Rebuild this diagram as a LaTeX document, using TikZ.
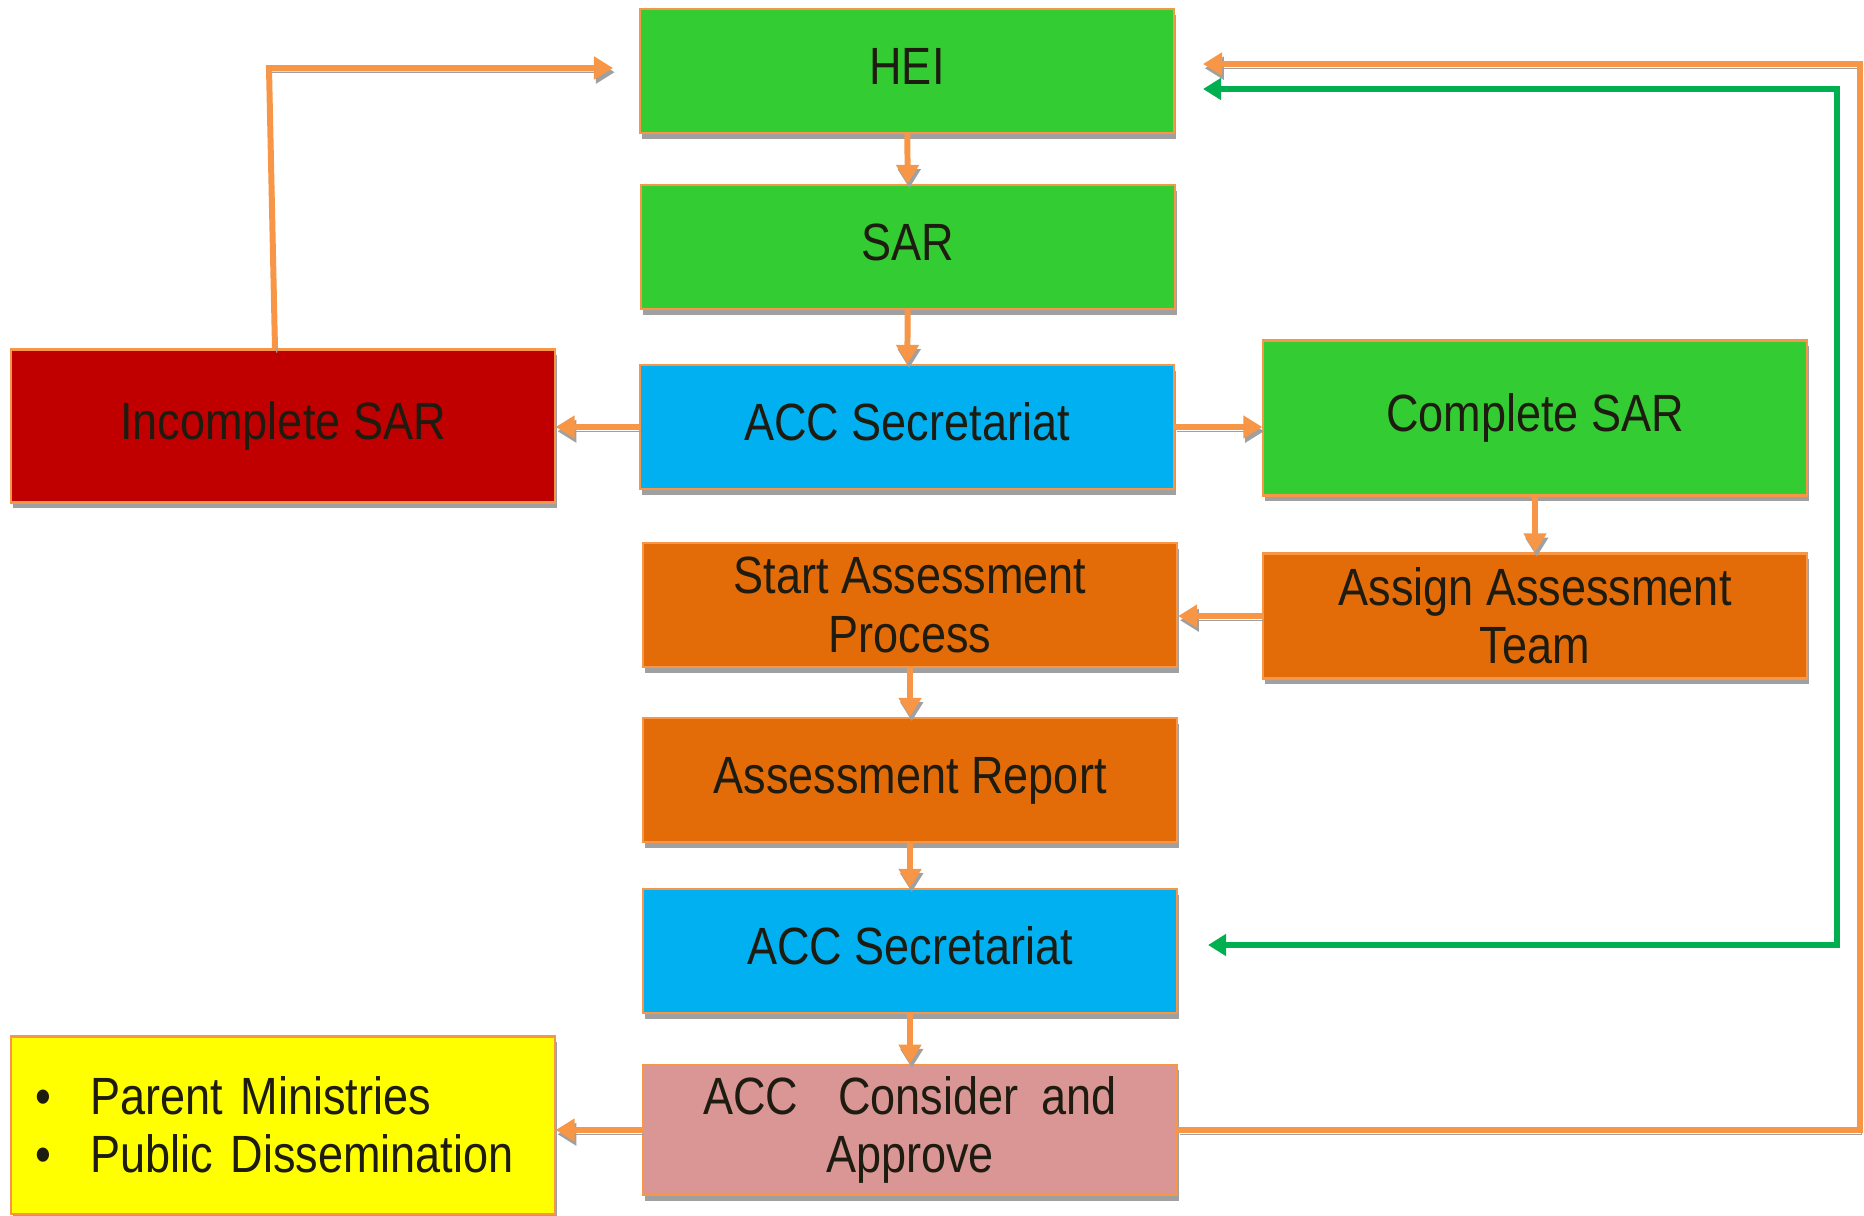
\documentclass[tikz,border=0pt]{standalone}
\usepackage{fontspec}
\setmainfont{Liberation Sans}[FakeStretch=0.86]
\usepackage{tikz}
\usetikzlibrary{arrows.meta, shadows}
\usepackage{xcolor}
\definecolor{heigreen}{RGB}{51, 204, 51}
\definecolor{accblue}{RGB}{0, 176, 240}
\definecolor{badred}{RGB}{192, 0, 0}
\definecolor{procorange}{RGB}{227, 108, 9}
\definecolor{approvepink}{RGB}{217, 150, 148}
\definecolor{outyellow}{RGB}{255, 255, 0}
\definecolor{lineorange}{RGB}{247, 150, 70}
\definecolor{loopgreen}{RGB}{0, 176, 80}
\definecolor{textdark}{RGB}{30, 28, 16}
\definecolor{shadowgray}{RGB}{160, 160, 160}
\tikzset{
  box/.style        = {rectangle, draw=lineorange, line width=0.6pt, minimum width=5.34cm, minimum height=1.24cm, align=center, text=textdark, font=\fontsize{14.9pt}{16.6pt}\selectfont, drop shadow={shadow xshift=0.6pt, shadow yshift=-1.6pt, fill=shadowgray, opacity=1}},
  oneline/.style    = {text depth=0.1cm},
  boxside/.style    = {box, minimum width=5.43cm},
  boxgreen/.style   = {box, fill=heigreen},
  boxblue/.style    = {box, fill=accblue},
  boxorange/.style  = {box, fill=procorange},
  boxpink/.style    = {box, fill=approvepink},
  boxred/.style     = {boxside, fill=badred},
  boxyellow/.style  = {boxside, fill=outyellow},
  flow/.style       = {-{Triangle[length=0.19cm, width=0.22cm]}, line width=1.7pt, lineorange, preaction={draw=shadowgray, transform canvas={xshift=0.5pt, yshift=-1.2pt}}},
  flowback/.style   = {{Triangle[length=0.18cm, width=0.21cm]}-{Triangle[length=0.18cm, width=0.21cm]}, line width=1.45pt, loopgreen},
}

\begin{document}
\begin{tikzpicture}[x=0.01cm, y=-0.01cm]
  \useasboundingbox (0,0) rectangle (1864,1215);

  % main column
  \node[boxgreen, oneline]  (hei)     at (907,71)   {HEI};
  \node[boxgreen, oneline]  (sar)     at (908,247)  {SAR};
  \node[boxblue, oneline]   (sec1)    at (907,427)  {ACC Secretariat};
  \node[boxorange]          (start)   at (910,605)  {Start Assessment\\Process};
  \node[boxorange, oneline] (report)  at (910,780)  {Assessment Report};
  \node[boxblue, oneline]   (sec2)    at (910,951)  {ACC Secretariat};
  \node[boxpink]            (approve) at (910,1130) {ACC\hspace{0.4cm}Consider\hspace{0.23cm}and\\Approve};

  % side boxes
  \node[boxred, oneline, minimum height=1.53cm]    (incomplete) at (283,426)  {Incomplete SAR};
  \node[boxgreen, boxside, oneline, minimum height=1.55cm] (complete) at (1535,418) {Complete SAR};
  \node[boxorange, boxside, minimum height=1.25cm] (assign) at (1535,616) {Assign Assessment\\Team};
  \node[boxyellow, minimum height=1.77cm, align=left, inner xsep=0.24cm, text width=4.95cm] (dissem) at (283,1125)
    {\makebox[0.55cm][l]{\textbullet}Parent Ministries\\\makebox[0.55cm][l]{\textbullet}Public Dissemination};

  % free ends of the feedback lines
  \coordinate (upturn)   at (269,68);
  \coordinate (heileft)  at (613,68);
  \coordinate (rail)     at (1860,64);
  \coordinate (heiin)    at (1203,64);
  \coordinate (heiback)  at (1203,89);
  \coordinate (greentop) at (1837,89);
  \coordinate (sec2in)   at (1208,945);

  % flow down the column
  \draw[flow] (hei) -- (sar);
  \draw[flow] (sar) -- (sec1);
  \draw[flow] (sec1.west) -- (incomplete.east |- sec1.west);
  \draw[flow] (sec1.east) -- (complete.west |- sec1.east);
  \draw[flow] (complete) -- (assign);
  \draw[flow] (assign.west) -- (start.east |- assign.west);
  \draw[flow] (start) -- (report);
  \draw[flow] (report) -- (sec2);
  \draw[flow] (sec2) -- (approve);
  \draw[flow] (approve.west) -- (dissem.east |- approve.west);

  % back to HEI
  \draw[flow] ([xshift=-0.08cm]incomplete.north) -- (upturn) -- (heileft);
  \draw[flow] (approve.east) -| (rail) -- (heiin);
  \draw[flowback] (heiback) -- (greentop) |- (sec2in);

\end{tikzpicture}
\end{document}
